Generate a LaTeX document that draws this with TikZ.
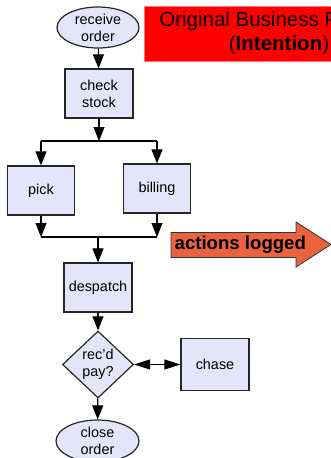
\documentclass[tikz,border=0pt]{standalone}
\usepackage{fontspec}
\setmainfont{Liberation Sans}
\usetikzlibrary{shapes.geometric,arrows.meta}
\definecolor{taskfill}{RGB}{229,229,250}
\definecolor{logfill}{RGB}{234,98,62}
\definecolor{titleline}{RGB}{255,120,120}

\begin{document}
\begin{tikzpicture}[x=1pt,y=-1pt,
    txt/.style={font=\fontsize{14.4}{17}\selectfont,align=center,inner sep=0pt},
    task/.style={txt,draw=black!85,line width=1.2pt,fill=taskfill,rectangle,minimum width=68pt,minimum height=49pt},
    term/.style={txt,draw=black!85,line width=1.2pt,fill=taskfill,ellipse,minimum width=82pt,minimum height=41pt},
    test/.style={txt,draw=black!85,line width=1.2pt,fill=taskfill,diamond,minimum width=71pt,minimum height=67pt},
    flow/.style={line width=1.1pt,-{Triangle[length=14pt,width=11pt]}},
    both/.style={line width=1.1pt,{Triangle[length=16pt,width=10pt]}-{Triangle[length=16pt,width=10pt]}}]
    \useasboundingbox (0,0) rectangle (331,458);
    % title
    \node[fill=red,draw=titleline,line width=0.8pt,minimum width=270pt,minimum height=55pt,
          align=center,font=\fontsize{20.5}{24}\selectfont] (T) at (279,33.5)
          {Original Business Process\\({\bfseries Intention})};
    % flow chart
    \node[term] (RO) at (98,27.5)  {receive\\order};
    \node[task] (CS) at (99,93.5)  {check\\stock};
    \node[task,minimum width=67pt] (PK) at (41,190.5) {pick};
    \node[task,minimum width=67pt] (BI) at (157,188.5) {billing};
    \node[task] (DS) at (98,287.5) {despatch};
    \node[test] (RP) at (98,364.5) {rec'd\\pay?};
    \node[task,minimum height=52pt] (CH) at (215,364.5) {chase};
    \node[term,minimum width=83pt,minimum height=42pt] (CO) at (97.5,441) {close\\order};
    \coordinate (SP) at (99,141);   \coordinate (SL) at (41,141);  \coordinate (SR) at (157,141);
    \coordinate (JN) at (98,237);   \coordinate (JL) at (41,237);  \coordinate (JR) at (157,237);
    \draw[flow] (RO) -- (CS);
    \draw[flow] (CS) -- (SP);
    \draw[line width=1.1pt] (SL) -- (SR);
    \draw[flow] (SL) -- (PK);
    \draw[flow] (SR) -- (BI.north -| SR);
    \draw[flow] (PK) -- (JL);
    \draw[flow] (BI.south -| JR) -- (JR);
    \draw[line width=1.1pt] (JL) -- (JR);
    \draw[flow] (JN) -- (DS);
    \draw[flow] (DS) -- (RP);
    \draw[both] (RP) -- (CH);
    \draw[flow] (RP) -- (CO);
    % log arrow
    \draw[fill=logfill,draw=black!80,line width=0.8pt] (171,232.5) -- (296,232.5) -- (296,222) -- (331,244.5)
        -- (296,267) -- (296,257.5) -- (171,257.5) -- cycle;
    \node[anchor=west,inner sep=0pt,font=\fontsize{18.6}{20}\selectfont\bfseries] (AL) at (174.5,245) {actions logged};
\end{tikzpicture}
\end{document}
